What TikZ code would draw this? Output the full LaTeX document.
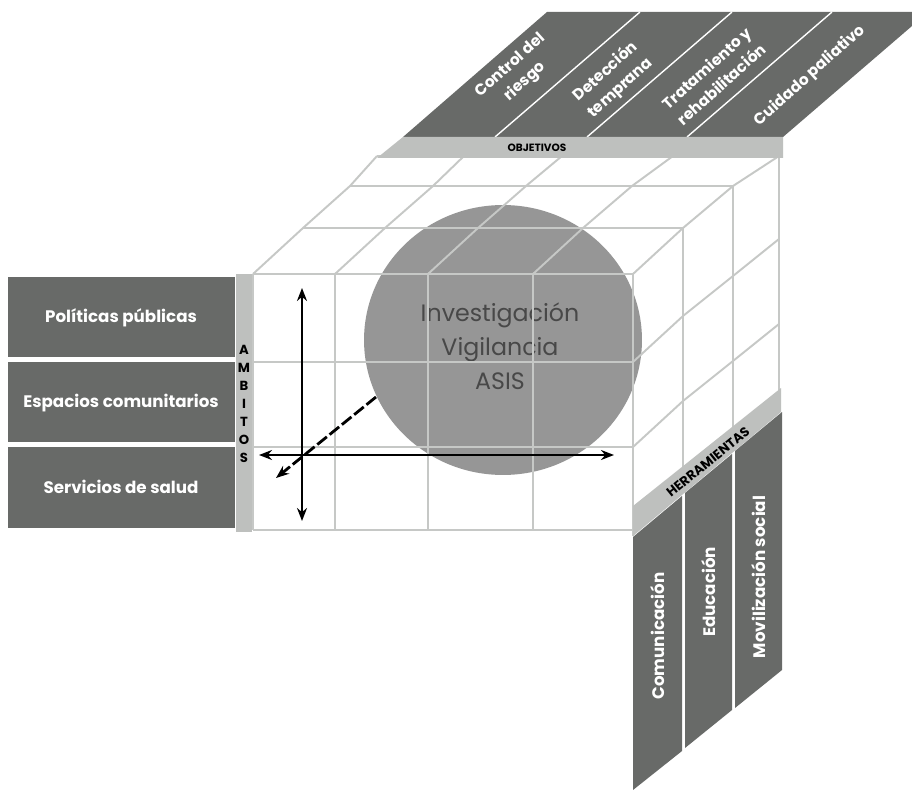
\documentclass[tikz,border=0pt]{standalone}
\usepackage{fontspec}
\setsansfont{Poppins}
\usetikzlibrary{arrows.meta}
\definecolor{bandgray}{RGB}{104,106,104}
\definecolor{bargray}{RGB}{190,192,190}
\definecolor{gridgray}{RGB}{198,200,198}
\definecolor{circlegray}{RGB}{150,150,150}
\definecolor{txtgray}{RGB}{72,72,72}
\tikzset{
  gridln/.style={draw=gridgray, line width=1.1pt},
  band/.style={fill=bandgray},
  bar/.style={fill=bargray},
  lbl/.style={text=white, font=\sffamily\bfseries\fontsize{9.5}{10.5}\selectfont,
              align=center, inner sep=0pt},
  toplbl/.style={lbl, rotate=42, font=\sffamily\bfseries\fontsize{8.8}{12.5}\selectfont},
  tag/.style={text=black, font=\sffamily\bfseries\fontsize{6}{7}\selectfont, inner sep=0pt},
  axis/.style={{Stealth[length=2.6mm,width=2mm]}-{Stealth[length=2.6mm,width=2mm]},
               line width=1.6pt, black},
  daxis/.style={-{Stealth[length=2.6mm,width=2mm]}, line width=1.6pt, black,
                dash pattern=on 7pt off 2pt}
}
\begin{document}
\begin{tikzpicture}[x=0.02cm, y=-0.02cm]
    \useasboundingbox (0,0) rectangle (912,790);
    \fill[white] (0,0) rectangle (912,790);
    % sphere behind the grid
    \fill[circlegray] (503,340) ellipse [x radius=2.78cm, y radius=2.7cm];
    \node[font=\sffamily\fontsize{13.5}{19.5}\selectfont, text=txtgray, align=center] (sph)
      at (500,346) {Investigación\\Vigilancia\\ASIS};
    % cube grid
    \draw[gridln] (253,274) -- (633,274) (253,362) -- (633,362)
      (253,447) -- (633,447) (253,530) -- (633,530);
    \draw[gridln] (253,274) -- (253,530) (335,274) -- (335,530) (428,274) -- (428,530)
      (533,274) -- (533,530) (633,274) -- (633,536);
    \draw[gridln] (253,274) -- (303,228) -- (350,186) -- (377,156)
      (335,274) -- (385,228) -- (433,186) -- (464,156)
      (428,274) -- (478,228) -- (526,186) -- (562,156)
      (533,274) -- (583,228) -- (632,186) -- (673,156)
      (633,274) -- (683,228) -- (733,186) -- (779,156);
    \draw[gridln] (303,228) -- (683,228) (350,186) -- (733,186) (377,156) -- (779,156);
    \draw[gridln] (683,228) -- (683,470) (733,186) -- (733,430) (779,156) -- (779,392);
    \draw[gridln] (633,362) -- (683,316) -- (733,276) -- (779,239)
      (633,447) -- (683,401) -- (733,361) -- (779,324);
    % objetivos
    \fill[band] (403,137) -- (547,12) -- (912,12) -- (912,26) -- (783,137) -- cycle;
    \draw[white, line width=0.8pt] (495,137) -- (640,12) (587,137) -- (732,12) (687,137) -- (832,12);
    \fill[bar] (377,158) -- (403,137) -- (783,137) -- (783,158) -- cycle;
    \node[tag] (obj) at (537,148) {OBJETIVOS};
    \node[toplbl] (ctl) at (518,74) {Control del\\riesgo};
    \node[toplbl] (det) at (613,80) {Detección\\temprana};
    \node[toplbl] (tra) at (714,76) {Tratamiento y\\rehabilitación};
    \node[toplbl] (cui) at (810,76) {Cuidado paliativo};
    % ambitos
    \fill[bandgray] (8,277) rectangle (235,357);
    \fill[bandgray] (8,362) rectangle (235,442);
    \fill[bandgray] (8,447) rectangle (235,528);
    \fill[bar] (236,274) rectangle (252,532);
    \node[lbl] (pol) at (121,318) {Políticas públicas};
    \node[lbl] (esp) at (121,403) {Espacios comunitarios};
    \node[lbl] (ser) at (121,487) {Servicios de salud};
    \node[tag, font=\sffamily\bfseries\fontsize{7.5}{10.2}\selectfont, align=center] (amb) at (244,404)
      {A\\M\\B\\I\\T\\O\\S};
    % herramientas
    \fill[bar] (633,506) -- (781,388) -- (781,412) -- (633,536) -- cycle;
    \fill[band] (633,537) -- (682,496) -- (682,751) -- (633,790) -- cycle;
    \fill[band] (685,493) -- (732,454) -- (732,710) -- (685,748) -- cycle;
    \fill[band] (735,451) -- (782,412) -- (782,670) -- (735,708) -- cycle;
    \node[tag, font=\sffamily\bfseries\fontsize{7.5}{9}\selectfont, rotate=39] (her) at (708,462) {HERRAMIENTAS};
    \node[lbl, rotate=90] (com) at (658,636) {Comunicación};
    \node[lbl, rotate=90] (edu) at (709,592) {Educación};
    \node[lbl, rotate=90] (mov) at (759,577) {Movilización social};
    % axes
    \coordinate (vtop) at (302,288);
    \coordinate (vbot) at (302,521);
    \coordinate (hlft) at (259,455);
    \coordinate (hrgt) at (614,455);
    \coordinate (dsrt) at (376,397);
    \coordinate (dend) at (276,478);
    \draw[axis] (vtop) -- (vbot);
    \draw[axis] (hlft) -- (hrgt);
    \draw[daxis] (dsrt) -- (dend);
  \end{tikzpicture}
\end{document}
